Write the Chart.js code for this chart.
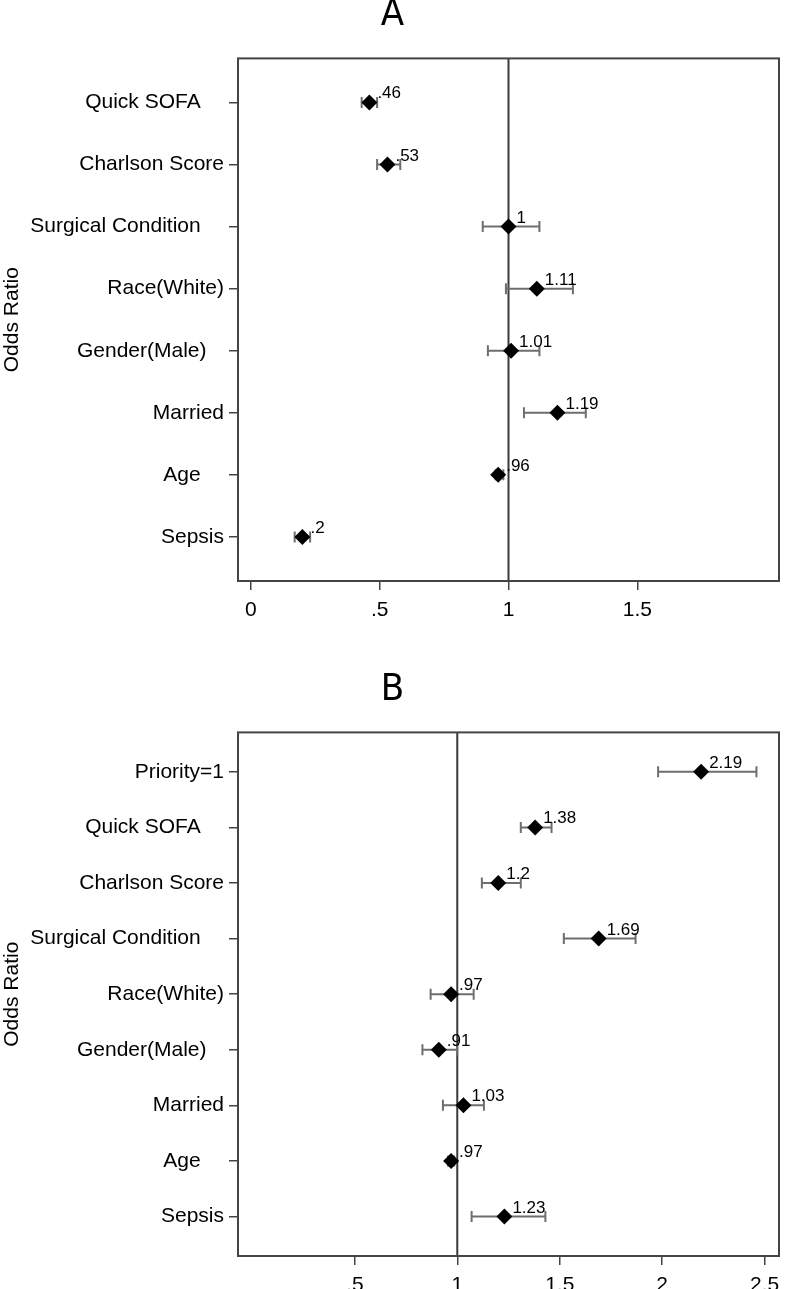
<!DOCTYPE html>
<html>
<head>
<meta charset="utf-8">
<script src="https://cdn.jsdelivr.net/npm/chart.js@4.4.1/dist/chart.umd.min.js"></script>
<style>
  html, body { margin: 0; padding: 0; background: #fff; overflow: hidden; }
  .panel { position: relative; width: 787px; }
  #wrapA { height: 640px; }
  #wrapB { height: 649px; }
</style>
</head>
<body>
<div class="panel" id="wrapA"><canvas id="chartA"></canvas></div>
<div class="panel" id="wrapB"><canvas id="chartB"></canvas></div>
<script>
// Panel A
const catsA = ["Quick SOFA    ", "Charlson Score", "Surgical Condition    ", "Race(White)", "Gender(Male)   ", "Married", "Age    ", "Sepsis"];
const orA = [0.46, 0.53, 1, 1.11, 1.01, 1.19, 0.96, 0.2];
const loA = [0.43, 0.49, 0.90, 0.99, 0.92, 1.06, 0.95, 0.17];
const hiA = [0.49, 0.58, 1.12, 1.25, 1.12, 1.30, 0.98, 0.23];
const ticksA = [0, 0.5, 1, 1.5];

// Panel B
const catsB = ["Priority=1", "Quick SOFA    ", "Charlson Score", "Surgical Condition    ", "Race(White)", "Gender(Male)   ", "Married", "Age    ", "Sepsis"];
const orB = [2.19, 1.38, 1.2, 1.69, 0.97, 0.91, 1.03, 0.97, 1.23];
const loB = [1.98, 1.31, 1.12, 1.52, 0.87, 0.83, 0.93, 0.955, 1.07];
const hiB = [2.46, 1.46, 1.31, 1.87, 1.08, 1.00, 1.13, 0.985, 1.43];
const ticksB = [0.5, 1, 1.5, 2, 2.5];

const SANS = '"Liberation Sans", Arial, sans-serif';
const fmt = v => String(v).replace(/^0\./, '.');

function makeChart(id, title, cats, or, lo, hi, ticks, xmin, xmax, titlePad, axisH) {
  const forest = {
    id: 'forest',
    beforeDatasetsDraw(chart) {
      const { ctx, chartArea: a, scales: { x, y } } = chart;
      ctx.save();
      // reference line at 1
      const x1 = x.getPixelForValue(1);
      ctx.strokeStyle = '#3a3a3a';
      ctx.lineWidth = 2;
      ctx.beginPath();
      ctx.moveTo(x1, a.top);
      ctx.lineTo(x1, a.bottom);
      ctx.stroke();
      // confidence intervals
      ctx.strokeStyle = '#6e6e6e';
      ctx.lineWidth = 2;
      lo.forEach((l, i) => {
        const yy = y.getPixelForValue(i + 1);
        const xl = x.getPixelForValue(l), xr = x.getPixelForValue(hi[i]);
        ctx.beginPath();
        ctx.moveTo(xl, yy); ctx.lineTo(xr, yy);
        ctx.moveTo(xl, yy - 5.5); ctx.lineTo(xl, yy + 5.5);
        ctx.moveTo(xr, yy - 5.5); ctx.lineTo(xr, yy + 5.5);
        ctx.stroke();
      });
      ctx.restore();
    },
    afterDatasetsDraw(chart) {
      const { ctx, chartArea: a, scales: { x, y } } = chart;
      ctx.save();
      ctx.font = '17px ' + SANS;
      ctx.fillStyle = '#000';
      ctx.textBaseline = 'alphabetic';
      or.forEach((v, i) => {
        ctx.fillText(fmt(v), x.getPixelForValue(v) + 8, y.getPixelForValue(i + 1) - 4);
      });
      // plot frame
      ctx.strokeStyle = '#444';
      ctx.lineWidth = 2;
      ctx.strokeRect(a.left, a.top, a.right - a.left, a.bottom - a.top);
      ctx.restore();
    }
  };

  return new Chart(document.getElementById(id), {
    type: 'scatter',
    data: {
      datasets: [{
        data: or.map((v, i) => ({ x: v, y: i + 1 })),
        pointStyle: 'rectRot',
        pointRadius: 8,
        pointBorderWidth: 0,
        backgroundColor: '#000',
        borderColor: '#000'
      }]
    },
    options: {
      responsive: true,
      maintainAspectRatio: false,
      animation: false,
      events: [],
      layout: { padding: { left: 0, right: 2, top: 0, bottom: 0 } },
      plugins: {
        legend: { display: false },
        tooltip: { enabled: false },
        title: {
          display: true,
          text: title,
          color: '#000',
          font: { family: '"DejaVu Sans Condensed", "DejaVu Sans", sans-serif', size: 38, weight: 'normal', lineHeight: 0.8 },
          padding: titlePad
        }
      },
      scales: {
        x: {
          type: 'linear',
          min: xmin,
          max: xmax,
          afterBuildTicks: s => { s.ticks = ticks.map(v => ({ value: v })); },
          afterFit: s => { s.height = axisH; s.paddingLeft = 0; s.paddingRight = 0; },
          border: { display: false },
          grid: { drawOnChartArea: false, drawTicks: true, tickLength: 9, color: '#444', lineWidth: 1.5 },
          ticks: { callback: v => fmt(v), color: '#000', font: { family: SANS, size: 21 }, padding: 8, maxRotation: 0 }
        },
        y: {
          type: 'linear',
          reverse: true,
          min: 0.29,
          max: cats.length + 0.71,
          afterBuildTicks: s => { s.ticks = cats.map((c, i) => ({ value: i + 1 })); },
          afterFit: s => { s.width = 238; s.paddingTop = 0; s.paddingBottom = 0; },
          border: { display: false },
          grid: { drawOnChartArea: false, drawTicks: true, tickLength: 9, color: '#444', lineWidth: 1.5 },
          ticks: { callback: v => cats[v - 1], color: '#000', font: { family: SANS, size: 21 }, padding: 5 },
          title: { display: true, text: 'Odds Ratio', color: '#000', font: { family: SANS, size: 21 }, padding: { top: 0, bottom: 0 } }
        }
      }
    },
    plugins: [forest]
  });
}

makeChart('chartA', 'A', catsA, orA, loA, hiA, ticksA, -0.05, 2.05, { top: 0, bottom: 28 }, 59);
makeChart('chartB', 'B', catsB, orB, loB, hiB, ticksB, -0.07, 2.57, { top: 35, bottom: 27 }, 33);
</script>
</body>
</html>
